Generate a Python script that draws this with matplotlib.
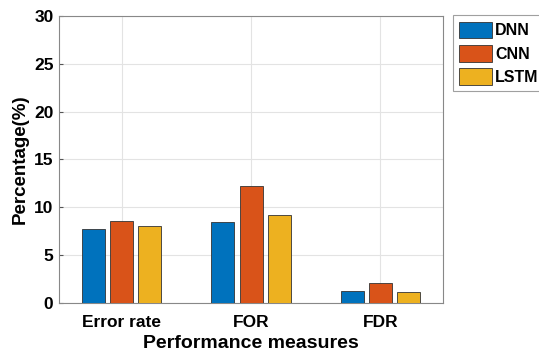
import numpy as np
import matplotlib
matplotlib.use('Agg')
import matplotlib.pyplot as plt

plt.rcParams['font.family'] = ['Liberation Sans', 'DejaVu Sans']
plt.rcParams['font.weight'] = 'bold'

categories = ['Error rate', 'FOR', 'FDR']
models = ['DNN', 'CNN', 'LSTM']
dnn = [7.7, 8.5, 1.25]
cnn = [8.6, 12.2, 2.1]
lstm = [8.0, 9.15, 1.15]
colors = ['#0072BD', '#D95319', '#EDB120']

fig = plt.figure(figsize=(5.39, 3.61), dpi=100)
ax = fig.add_axes([0.1095, 0.1607, 0.7125, 0.795])

x = np.arange(1, len(categories) + 1)
w = 0.178
step = 0.218
for i, (vals, name) in enumerate(zip([dnn, cnn, lstm], models)):
    ax.bar(x + (i - 1) * step, vals, width=w, color=colors[i],
           edgecolor='#333333', linewidth=0.6, label=name, zorder=3)

ax.set_xlim(0.515, 3.485)
ax.set_ylim(0, 30)
ax.set_xticks(x)
ax.set_xticklabels(categories)
ax.set_yticks(np.arange(0, 31, 5))
ax.tick_params(labelsize=12.5, length=3, color='#555555', direction='in')
ax.tick_params(axis='x', pad=9)
ax.tick_params(axis='y', pad=4)
for lab in ax.get_xticklabels() + ax.get_yticklabels():
    lab.set_fontweight('bold')
ax.grid(True, color='#e3e3e3', linewidth=0.8, zorder=0)
for s in ax.spines.values():
    s.set_color('#888888')
    s.set_linewidth(0.8)

ax.set_xlabel('Performance measures', fontsize=14, fontweight='bold', labelpad=3)
ax.set_ylabel('Percentage(%)', fontsize=13.5, fontweight='bold', labelpad=4)

leg = ax.legend(loc='upper left', bbox_to_anchor=(1.025, 1.003),
                prop={'weight': 'bold', 'size': 11.5},
                handlelength=2.05, handleheight=1.25, handletextpad=0.2,
                labelspacing=0.4, borderpad=0.4, borderaxespad=0,
                fancybox=False, edgecolor='#888888', frameon=True)
leg.get_frame().set_linewidth(0.8)

fig.savefig('out.png', dpi=100)
